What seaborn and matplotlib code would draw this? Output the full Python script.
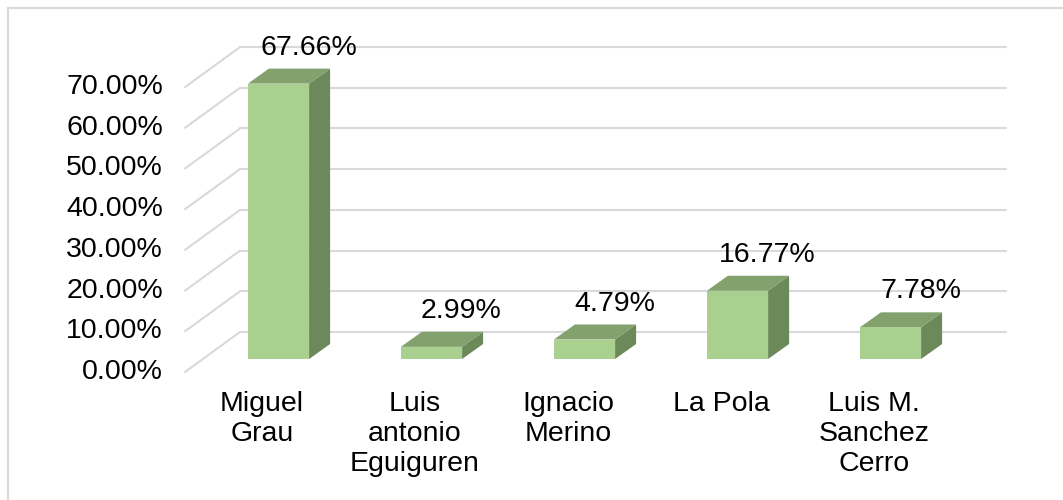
import matplotlib
matplotlib.use("Agg")
import matplotlib.pyplot as plt
import seaborn as sns
from matplotlib.patches import Polygon, Rectangle
from matplotlib.lines import Line2D

categories = ["Miguel\nGrau", "Luis\nantonio\nEguiguren", "Ignacio\nMerino", "La Pola",
              "Luis M.\nSanchez\nCerro"]
values = [67.66, 2.99, 4.79, 16.77, 7.78]
ticks = [0, 10, 20, 30, 40, 50, 60, 70]

front_col = "#A9D08E"
top_col = "#82A16D"
side_col = "#6C895A"
grid_col = "#D9D9D9"

sns.set_theme(style="white")
plt.rcParams["font.family"] = ["Liberation Sans", "DejaVu Sans"]
fs = 20.5

W, H = 1063, 500
fig = plt.figure(figsize=(W / 100, H / 100), dpi=100)

# pixel geometry of the fake 3d view
x0_px, x_step = 278.5, 153.0   # bar front centre of first category, spacing
y0_px, y_step = 359.0, 4.07    # bar baseline, px per percent
left, right, bottom, top = 150, 1040, 480, 20
ax = fig.add_axes([left / W, 1 - bottom / H, (right - left) / W, (bottom - top) / H])


def px(x):
    return (x - x0_px) / x_step


def dy(p):
    return -p / y_step


# back wall gridlines and left floor diagonals
back_off = dy(332 - 359)
front_off = dy(372 - 359)
for t in ticks:
    ax.add_line(Line2D([px(240), px(1006)], [t + back_off] * 2, color=grid_col, lw=1.5, zorder=1))
    ax.add_line(Line2D([px(185), px(240)], [t + front_off, t + back_off], color=grid_col, lw=1.5, zorder=1))
    ax.text(px(163), t + front_off, f"{t:.2f}%", ha="right", va="center", fontsize=fs, color="#000000")

df = {"cat": categories, "val": values}
sns.barplot(data=df, x="cat", y="val", color=front_col, width=0.4, saturation=1,
            edgecolor="none", ax=ax, zorder=3)
ax.set_xlim((left - x0_px) / x_step, (right - x0_px) / x_step)
ax.set_ylim((y0_px - bottom) / y_step, (y0_px - top) / y_step)

ddx = 21 / x_step
ddy = 15 / y_step
for p, v, c in zip(ax.patches[:len(values)], values, categories):
    xa = p.get_x()
    xb = xa + p.get_width()
    h = p.get_height()
    ax.add_patch(Polygon([(xb, 0), (xb, h), (xb + ddx, h + ddy), (xb + ddx, ddy)],
                         closed=True, facecolor=side_col, edgecolor="none", zorder=2.9))
    ax.add_patch(Polygon([(xa, h), (xb, h), (xb + ddx, h + ddy), (xa + ddx, h + ddy)],
                         closed=True, facecolor=top_col, edgecolor="none", zorder=2.9))
    xc = xa + p.get_width() / 2
    ax.text(xc + 30 / x_step, h + 36 / y_step, f"{v:.2f}%", ha="center", va="center",
            fontsize=fs, color="#000000", zorder=5)
    ax.text(xc - 16.5 / x_step, dy(391 - 359), c, ha="center", va="top", fontsize=fs,
            linespacing=1.2, color="#000000")

ax.set_axis_off()

# chart frame (only top and left edges fall inside the image)
fig.patches.append(Rectangle((8 / W, -0.1), 1.2, 1 - 8 / H + 0.1, transform=fig.transFigure,
                             facecolor="none", edgecolor=grid_col, lw=1.5, zorder=0))

fig.savefig("out.png", dpi=100, facecolor="white")
